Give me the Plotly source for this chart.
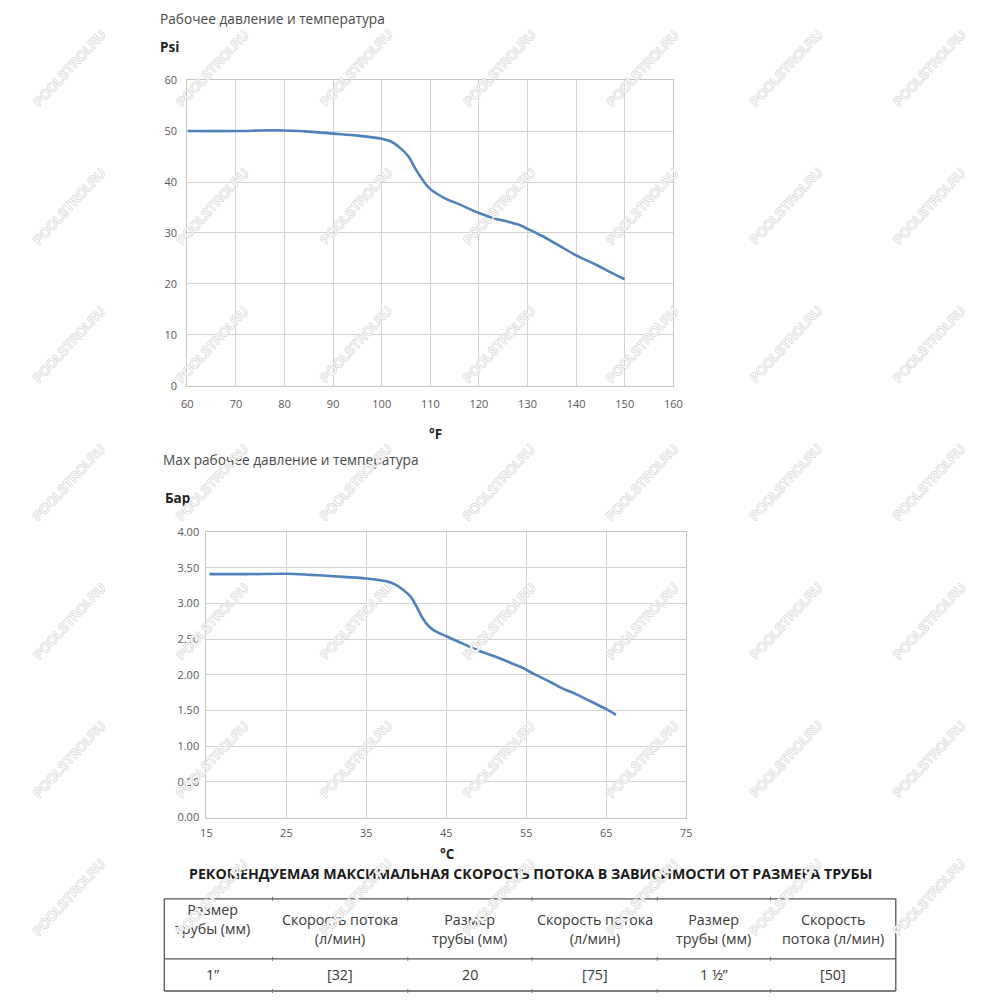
import plotly.graph_objects as go

# working pressure vs temperature, fahrenheit / psi
temp_f = [60, 70, 78, 85, 90, 95, 100, 102, 104, 105.5, 107, 108.5, 110, 113, 116,
          120, 123, 126, 128.5, 130, 133, 136, 140, 144, 147, 150]
psi = [50.0, 50.0, 50.15, 49.9, 49.5, 49.1, 48.5, 47.9, 46.5, 45.0, 42.5, 40.3, 38.6, 36.8, 35.6,
       33.9, 32.9, 32.2, 31.5, 30.8, 29.4, 27.8, 25.6, 23.8, 22.3, 20.9]

# max working pressure vs temperature, celsius / bar
temp_c = [15.4, 20, 25, 28, 31, 35, 37.5, 38.5, 39.5, 40.5, 41.3, 42, 42.8, 43.5, 45,
          47, 49, 51, 53, 54.5, 56, 58, 59.5, 61, 63, 65, 66.2]
bar = [3.41, 3.41, 3.415, 3.40, 3.38, 3.35, 3.31, 3.27, 3.20, 3.10, 2.95, 2.80, 2.68, 2.62, 2.54,
       2.44, 2.34, 2.26, 2.17, 2.10, 2.01, 1.90, 1.81, 1.74, 1.63, 1.52, 1.44]

# flow table
table_header = ["Размер<br>трубы (мм)", "Скорость потока<br>(л/мин)", "Размер<br>трубы (мм)",
                "Скорость потока<br>(л/мин)", "Размер<br>трубы (мм)", "Скорость<br>потока (л/мин)"]
table_row = ["1”", "[32]", "20", "[75]", "1 ½”", "[50]"]

FONT = "Open Sans"
LINE_COLOR = "#4f81bd"
GRID = "#d3d3d3"

# the page comes out slightly shrunk and shifted, so map target pixels back
SCALE, OFFSET = 0.983, 15.0


def fx(x):
    return (x - OFFSET) / SCALE / 1000


def fy(y):
    return 1 - (y - OFFSET) / SCALE / 1000


def px(x, y):
    return fx(x), fy(y)


fig = go.Figure()
fig.add_trace(go.Scatter(x=temp_f, y=psi, mode="lines", line=dict(color=LINE_COLOR, width=2.6, shape="spline"),
                         xaxis="x", yaxis="y", hoverinfo="x+y"))
fig.add_trace(go.Scatter(x=temp_c, y=bar, mode="lines", line=dict(color=LINE_COLOR, width=2.6, shape="spline"),
                         xaxis="x2", yaxis="y2", hoverinfo="x+y"))

axis_common = dict(showgrid=True, gridcolor=GRID, gridwidth=1, showline=True, linecolor="#c4c4c4",
                   mirror=True, zeroline=False, ticks="outside", tickcolor="rgba(0,0,0,0)",
                   tickfont=dict(family=FONT, size=11, color="#595959"), fixedrange=True)

fig.update_layout(
    width=1000, height=1000,
    margin=dict(l=0, r=0, t=0, b=0),
    paper_bgcolor="white", plot_bgcolor="white",
    showlegend=False,
    xaxis=dict(domain=[fx(188), fx(673)], range=[60, 160], dtick=10, tick0=60, anchor="y", ticklen=8,
               **axis_common),
    yaxis=dict(domain=[fy(384), fy(79)], range=[0, 60], dtick=10, anchor="x", ticklen=7, **axis_common),
    xaxis2=dict(domain=[fx(207), fx(686)], range=[15, 75], dtick=10, tick0=15, anchor="y2", ticklen=5,
                **axis_common),
    yaxis2=dict(domain=[fy(815), fy(530)], range=[0, 4], dtick=0.5, tickformat=".2f", anchor="x2", ticklen=4,
                **axis_common),
)

ann = []


def text(x, y, s, size=13.5, bold=False, color="#4a4a4a", xanchor="left"):
    ax, ay = px(x, y)
    ann.append(dict(x=ax, y=ay, xref="paper", yref="paper", text=f"<b>{s}</b>" if bold else s,
                    showarrow=False, xanchor=xanchor, yanchor="middle",
                    font=dict(family=FONT, size=size, color=color)))


text(159, 17, "Рабочее давление и температура", size=13.7)
text(159, 46, "Psi", size=13.5, bold=True, color="#222")
text(436, 432, "°F", size=13.5, bold=True, color="#222", xanchor="center")
text(162, 458, "Max рабочее давление и температура", size=13.7)
text(164, 496, "Бар", size=13.5, bold=True, color="#222")
text(448, 851, "°C", size=13.5, bold=True, color="#222", xanchor="center")
text(530, 871, "РЕКОМЕНДУЕМАЯ МАКСИМАЛЬНАЯ СКОРОСТЬ ПОТОКА В ЗАВИСИМОСТИ ОТ РАЗМЕРА ТРУБЫ",
     size=14.2, bold=True, color="#1a1a1a", xanchor="center")

# table
col_edges = [165, 273, 408, 532, 657, 770, 895]
t_top, t_mid, t_bot = 896, 956, 988
shapes = []
for yy in (t_top, t_mid, t_bot):
    shapes.append(dict(type="line", xref="paper", yref="paper", x0=fx(col_edges[0]), x1=fx(col_edges[-1]),
                       y0=fy(yy), y1=fy(yy), line=dict(color="#555", width=1.3)))
for xx in (col_edges[0], col_edges[-1]):
    shapes.append(dict(type="line", xref="paper", yref="paper", x0=fx(xx), x1=fx(xx), y0=fy(t_top), y1=fy(t_bot),
                       line=dict(color="#555", width=1.3)))
for xx in col_edges[1:-1]:
    for yy in (t_top, t_mid, t_bot):
        shapes.append(dict(type="line", xref="paper", yref="paper", x0=fx(xx), x1=fx(xx),
                           y0=fy(yy - 2), y1=fy(yy + 2), line=dict(color="#777", width=1)))

for i, (h, v) in enumerate(zip(table_header, table_row)):
    cx = (col_edges[i] + col_edges[i + 1]) / 2
    if i == 0:
        cx -= 6
    hy = 916 if i == 0 else 926
    text(cx, hy, h, size=14.3, color="#3a3a3a", xanchor="center")
    text(cx, 972, v, size=14.3, color="#3a3a3a", xanchor="center")

# watermark grid
wc = "#d2d2d2"
outline = f"0.7px 0 0 {wc}, -0.7px 0 0 {wc}, 0 0.7px 0 {wc}, 0 -0.7px 0 {wc}"
for j in range(7):
    for i in range(7):
        ax, ay = px(70 + 143 * i, 67 + 138 * j)
        ann.append(dict(x=ax, y=ay, xref="paper", yref="paper", text="POOLSTROI.RU", showarrow=False,
                        textangle=-47, xanchor="center", yanchor="middle",
                        font=dict(family="Liberation Sans", size=13, color="white", shadow=outline)))

fig.update_layout(annotations=ann, shapes=shapes)
fig.write_html("out.html")
